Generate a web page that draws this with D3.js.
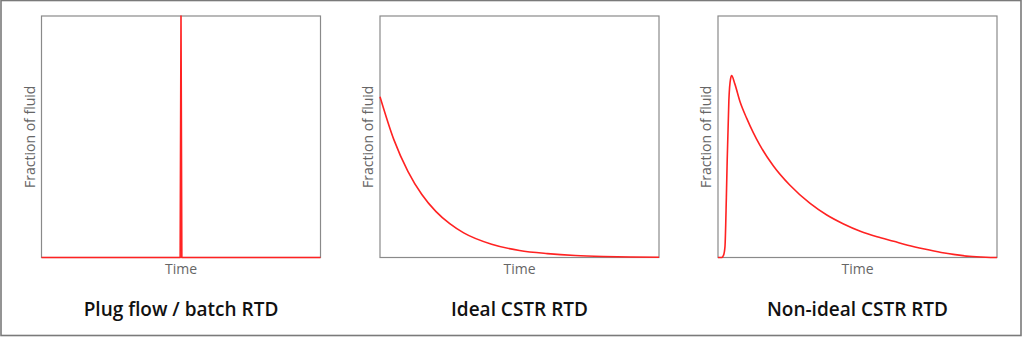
<!DOCTYPE html>
<html>
<head>
<meta charset="utf-8">
<script src="https://cdn.jsdelivr.net/npm/d3@7"></script>
<style>
  body { margin: 0; background: #fff; }
  text { font-family: "Open Sans", sans-serif; }
</style>
</head>
<body>
<div class="chart"></div>
<script>
// panel titles
var titles = ["Plug flow / batch RTD", "Ideal CSTR RTD", "Non-ideal CSTR RTD"]

// plug flow: a single spike at t = 5
var plugTime = [0, 4.97, 5.0, 5.03, 10]
var plugValue = [0, 0, 1, 0, 0]

// ideal CSTR: decay starting at t = 0
var idealTime = [0, 0.5, 1, 1.5, 2, 2.5, 3, 4, 5, 6, 7, 8, 9, 10]
var idealValue = [0.666, 0.487, 0.357, 0.261, 0.191, 0.140, 0.102, 0.055, 0.029, 0.016, 0.008, 0.004, 0.002, 0.001]

// non-ideal CSTR: delayed rise, sharp peak, long tail
var nonIdealTime = [0, 0.13, 0.2, 0.25, 0.3, 0.33, 0.39, 0.45, 0.49, 0.6, 0.79, 1.03, 1.26, 1.5, 1.98, 2.58, 3.29, 3.9, 4.5, 5.1, 5.7, 6.3, 6.8, 7.4, 8.0, 8.5, 9.0, 9.6, 10]
var nonIdealValue = [0, 0, 0.01, 0.045, 0.25, 0.404, 0.652, 0.74, 0.753, 0.72, 0.645, 0.576, 0.518, 0.465, 0.380, 0.299, 0.225, 0.176, 0.139, 0.109, 0.086, 0.067, 0.051, 0.035, 0.021, 0.012, 0.005, 0.001, 0]

var xLabel = "Time"
var yLabel = "Fraction of fluid"

var series = [
    { time: plugTime, value: plugValue },
    { time: idealTime, value: idealValue },
    { time: nonIdealTime, value: nonIdealValue }
]

var W = 1024, H = 337
var panelLeft = [41.5, 380, 718]
var panelTop = 16, pw = 279, ph = 241.5

var svg = d3.select('.chart')
    .append('svg')
    .attr('width', W)
    .attr('height', H)

// outer frame
svg.append('rect')
    .attr('x', 1).attr('y', 0.5)
    .attr('width', 1020).attr('height', 335)
    .attr('fill', 'none')
    .attr('stroke', '#7a7a7a')
    .attr('stroke-width', 1.6)

var x = d3.scaleLinear().domain([0, 10]).range([0, pw])
var y = d3.scaleLinear().domain([0, 1]).range([ph, 0])

var line = d3.line()
    .x(d => x(d[0]))
    .y(d => y(d[1]))

var g = svg.selectAll('g.panel')
    .data(series)
    .enter()
    .append('g')
    .attr('class', 'panel')
    .attr('transform', (d, i) => 'translate(' + panelLeft[i] + ',' + panelTop + ')')

g.append('rect')
    .attr('width', pw)
    .attr('height', ph)
    .attr('fill', 'none')
    .attr('stroke', '#8a8a8a')
    .attr('stroke-width', 1.2)

g.append('path')
    .attr('d', (d, i) => {
        var pts = d.time.map((t, k) => [t, d.value[k]])
        // the spike stays straight, the two decays are smoothed
        return line.curve(i == 0 ? d3.curveLinear : d3.curveMonotoneX)(pts)
    })
    .attr('fill', 'none')
    .attr('stroke', '#ff2222')
    .attr('stroke-width', 1.6)
    .attr('stroke-linejoin', 'round')

g.append('text')
    .attr('x', pw / 2)
    .attr('y', ph + 16)
    .attr('text-anchor', 'middle')
    .attr('font-size', 14)
    .attr('fill', '#666')
    .text(xLabel)

g.append('text')
    .attr('transform', 'translate(-7,' + ph / 2 + ') rotate(-90)')
    .attr('text-anchor', 'middle')
    .attr('font-size', 14)
    .attr('fill', '#666')
    .text(yLabel)

g.append('text')
    .attr('x', pw / 2)
    .attr('y', 300)
    .attr('text-anchor', 'middle')
    .attr('font-size', 19)
    .attr('font-weight', 600)
    .attr('fill', '#111')
    .text((d, i) => titles[i])
</script>
</body>
</html>
